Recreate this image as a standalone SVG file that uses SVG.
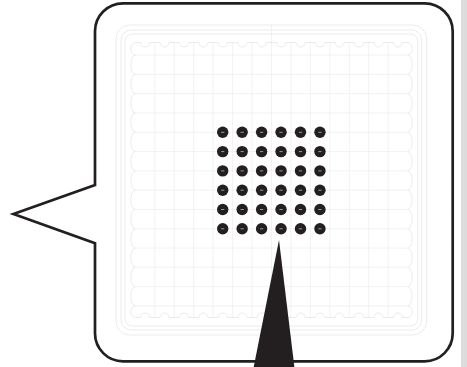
<svg xmlns="http://www.w3.org/2000/svg" xmlns:xlink="http://www.w3.org/1999/xlink" width="467" height="367" viewBox="0 0 467 367">
<style>
.tray{fill:none;stroke:#e2e2e2;stroke-width:0.7}
.grid{fill:none;stroke:#e9e9e9;stroke-width:0.6}
.outline{fill:#fff;stroke:#231f20;stroke-width:2.7;stroke-linejoin:miter}
.ink{fill:#231f20}
</style>
<defs>
<g id="dot">
<circle r="5.7" class="ink"/>
<line x1="-1.6" y1="0" x2="1.6" y2="0" stroke="#9a9a9a" stroke-width="1"/>
</g>
</defs>
<rect x="461" y="0" width="6" height="367" fill="#dcdcdc"/>
<g id="bubble">
<path class="outline" d="M123 3.3H424.7A28 28 0 0 1 452.7 31.3V333.3A28 28 0 0 1 424.7 361.3H123A28 28 0 0 1 95 333.3V243.3L13.5 214L95 185V31.3A28 28 0 0 1 123 3.3Z"/>
</g>
<g id="tray">
<rect class="tray" x="116" y="25" width="310.7" height="310" rx="14"/>
<rect class="tray" x="121" y="30" width="300.7" height="300" rx="10"/>
<rect class="tray" x="125" y="34" width="292.7" height="292" rx="7"/>
<path class="grid" d="M154.8 42.5V317.5M174.25 42.5V317.5M193.7 42.5V317.5M213.15 42.5V317.5M232.6 42.5V317.5M252.05 42.5V317.5M271.5 25V335M290.95 42.5V317.5M310.4 42.5V317.5M329.85 42.5V317.5M349.3 42.5V317.5M368.75 42.5V317.5M388.2 42.5V317.5"/>
<path class="grid" d="M135.35 55.05H407.65M135.35 74.35H407.65M135.35 93.65H407.65M135.35 112.95H407.65M135.35 132.25H407.65M135.35 151.55H407.65M135.35 170.85H407.65M135.35 190.15H407.65M135.35 209.45H407.65M135.35 228.75H407.65M135.35 248.05H407.65M135.35 267.35H407.65M135.35 286.65H407.65M135.35 305.95H407.65"/>
<path class="tray" d="M135.35 42.5H140.58a4.5 4.5 0 0 0 9 0h10.45a4.5 4.5 0 0 0 9 0h10.45a4.5 4.5 0 0 0 9 0h10.45a4.5 4.5 0 0 0 9 0h10.45a4.5 4.5 0 0 0 9 0h10.45a4.5 4.5 0 0 0 9 0h10.45a4.5 4.5 0 0 0 9 0h10.45a4.5 4.5 0 0 0 9 0h10.45a4.5 4.5 0 0 0 9 0h10.45a4.5 4.5 0 0 0 9 0h10.45a4.5 4.5 0 0 0 9 0h10.45a4.5 4.5 0 0 0 9 0h10.45a4.5 4.5 0 0 0 9 0h10.45a4.5 4.5 0 0 0 9 0H407.65"/>
<path class="tray" d="M135.35 317.5H140.58a4.5 4.5 0 0 1 9 0h10.45a4.5 4.5 0 0 1 9 0h10.45a4.5 4.5 0 0 1 9 0h10.45a4.5 4.5 0 0 1 9 0h10.45a4.5 4.5 0 0 1 9 0h10.45a4.5 4.5 0 0 1 9 0h10.45a4.5 4.5 0 0 1 9 0h10.45a4.5 4.5 0 0 1 9 0h10.45a4.5 4.5 0 0 1 9 0h10.45a4.5 4.5 0 0 1 9 0h10.45a4.5 4.5 0 0 1 9 0h10.45a4.5 4.5 0 0 1 9 0h10.45a4.5 4.5 0 0 1 9 0h10.45a4.5 4.5 0 0 1 9 0H407.65"/>
<path class="tray" d="M135.35 42.5a4.5 6.275 0 0 0 0 12.55a4.5 9.65 0 0 0 0 19.3a4.5 9.65 0 0 0 0 19.3a4.5 9.65 0 0 0 0 19.3a4.5 9.65 0 0 0 0 19.3a4.5 9.65 0 0 0 0 19.3a4.5 9.65 0 0 0 0 19.3a4.5 9.65 0 0 0 0 19.3a4.5 9.65 0 0 0 0 19.3a4.5 9.65 0 0 0 0 19.3a4.5 9.65 0 0 0 0 19.3a4.5 9.65 0 0 0 0 19.3a4.5 9.65 0 0 0 0 19.3a4.5 9.65 0 0 0 0 19.3a4.5 5.775 0 0 0 0 11.55"/>
<path class="tray" d="M407.65 42.5a4.5 6.275 0 0 1 0 12.55a4.5 9.65 0 0 1 0 19.3a4.5 9.65 0 0 1 0 19.3a4.5 9.65 0 0 1 0 19.3a4.5 9.65 0 0 1 0 19.3a4.5 9.65 0 0 1 0 19.3a4.5 9.65 0 0 1 0 19.3a4.5 9.65 0 0 1 0 19.3a4.5 9.65 0 0 1 0 19.3a4.5 9.65 0 0 1 0 19.3a4.5 9.65 0 0 1 0 19.3a4.5 9.65 0 0 1 0 19.3a4.5 9.65 0 0 1 0 19.3a4.5 9.65 0 0 1 0 19.3a4.5 5.775 0 0 1 0 11.55"/>
</g>
<g id="dots">
<use xlink:href="#dot" x="222.7" y="132.3"/><use xlink:href="#dot" x="242.15" y="132.3"/><use xlink:href="#dot" x="261.6" y="132.3"/><use xlink:href="#dot" x="281.05" y="132.3"/><use xlink:href="#dot" x="300.5" y="132.3"/><use xlink:href="#dot" x="319.95" y="132.3"/>
<use xlink:href="#dot" x="222.7" y="151.6"/><use xlink:href="#dot" x="242.15" y="151.6"/><use xlink:href="#dot" x="261.6" y="151.6"/><use xlink:href="#dot" x="281.05" y="151.6"/><use xlink:href="#dot" x="300.5" y="151.6"/><use xlink:href="#dot" x="319.95" y="151.6"/>
<use xlink:href="#dot" x="222.7" y="170.9"/><use xlink:href="#dot" x="242.15" y="170.9"/><use xlink:href="#dot" x="261.6" y="170.9"/><use xlink:href="#dot" x="281.05" y="170.9"/><use xlink:href="#dot" x="300.5" y="170.9"/><use xlink:href="#dot" x="319.95" y="170.9"/>
<use xlink:href="#dot" x="222.7" y="190.2"/><use xlink:href="#dot" x="242.15" y="190.2"/><use xlink:href="#dot" x="261.6" y="190.2"/><use xlink:href="#dot" x="281.05" y="190.2"/><use xlink:href="#dot" x="300.5" y="190.2"/><use xlink:href="#dot" x="319.95" y="190.2"/>
<use xlink:href="#dot" x="222.7" y="209.5"/><use xlink:href="#dot" x="242.15" y="209.5"/><use xlink:href="#dot" x="261.6" y="209.5"/><use xlink:href="#dot" x="281.05" y="209.5"/><use xlink:href="#dot" x="300.5" y="209.5"/><use xlink:href="#dot" x="319.95" y="209.5"/>
<use xlink:href="#dot" x="222.7" y="228.8"/><use xlink:href="#dot" x="242.15" y="228.8"/><use xlink:href="#dot" x="261.6" y="228.8"/><use xlink:href="#dot" x="281.05" y="228.8"/><use xlink:href="#dot" x="300.5" y="228.8"/><use xlink:href="#dot" x="319.95" y="228.8"/>
</g>
<g id="connectors">
<polygon class="ink" points="279,240 253.5,368 294.5,368"/>
</g>
</svg>
